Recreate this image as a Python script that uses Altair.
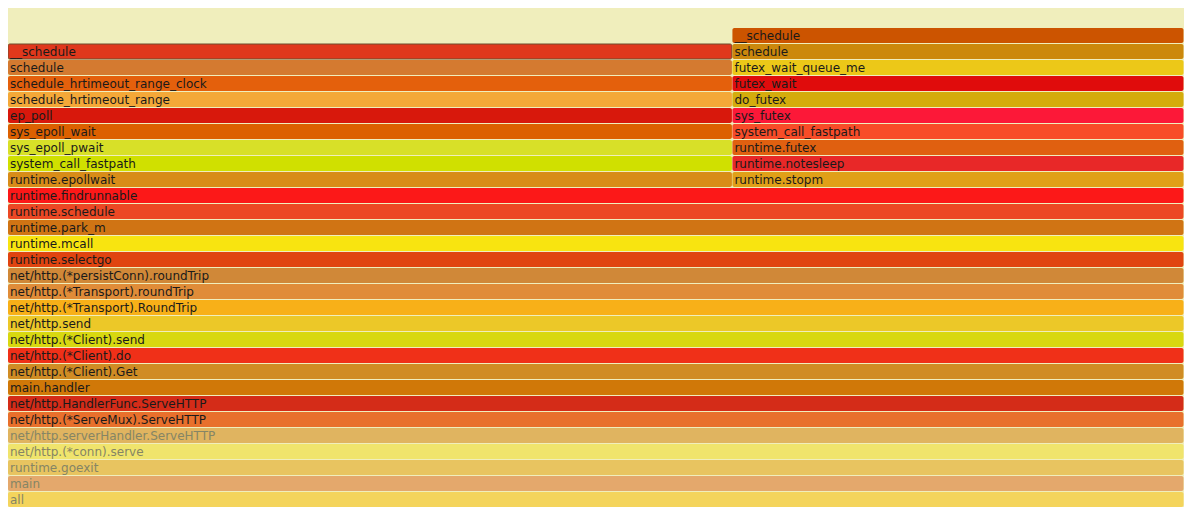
import altair as alt
import pandas as pd

# ---- data ----
TOTAL = 1000
LEFT = 616   # epoll branch samples
RIGHT = TOTAL - LEFT  # futex branch samples

common_names = [
    "all", "main", "runtime.goexit", "net/http.(*conn).serve",
    "net/http.serverHandler.ServeHTTP", "net/http.(*ServeMux).ServeHTTP",
    "net/http.HandlerFunc.ServeHTTP", "main.handler", "net/http.(*Client).Get",
    "net/http.(*Client).do", "net/http.(*Client).send", "net/http.send",
    "net/http.(*Transport).RoundTrip", "net/http.(*Transport).roundTrip",
    "net/http.(*persistConn).roundTrip", "runtime.selectgo", "runtime.mcall",
    "runtime.park_m", "runtime.schedule", "runtime.findrunnable",
]
common_colors = [
    "#f4d45c", "#e4a86c", "#e8c460", "#f0e46c", "#e0b460", "#e8702c",
    "#d42c18", "#d07808", "#d08c24", "#f03018", "#d8d810", "#ecc828",
    "#f8b018", "#e08c38", "#d08838", "#e04410", "#f8e410", "#d07414",
    "#ec4824", "#fc1818",
]
faded_rows = 5  # the bottom five frames are drawn faded

left_names = [
    "runtime.epollwait", "system_call_fastpath", "sys_epoll_pwait",
    "sys_epoll_wait", "ep_poll", "schedule_hrtimeout_range",
    "schedule_hrtimeout_range_clock", "schedule", "__schedule",
]
left_colors = [
    "#d88c18", "#d0e000", "#d8e028", "#dc6000", "#d8180c", "#f4a838",
    "#e4600c", "#d47a30", "#e0381c",
]

right_names = [
    "runtime.stopm", "runtime.notesleep", "runtime.futex",
    "system_call_fastpath", "sys_futex", "do_futex", "futex_wait",
    "futex_wait_queue_me", "schedule", "__schedule",
]
right_colors = [
    "#e0a018", "#e82828", "#e06010", "#f84c28", "#fc1838", "#d4ac0c",
    "#e00c0c", "#ecc818", "#cc880c", "#cc5400",
]

highlighted = ("__schedule", 28, 0)  # name, depth, start of the hovered frame

# ---- build table ----
rows = []
for i, (n, c) in enumerate(zip(common_names, common_colors)):
    rows.append(dict(name=n, depth=i, start=0, end=TOTAL, color=c,
                     faded=i < faded_rows))
base_depth = len(common_names)
for i, (n, c) in enumerate(zip(left_names, left_colors)):
    rows.append(dict(name=n, depth=base_depth + i, start=0, end=LEFT, color=c,
                     faded=False))
for i, (n, c) in enumerate(zip(right_names, right_colors)):
    rows.append(dict(name=n, depth=base_depth + i, start=LEFT, end=TOTAL,
                     color=c, faded=False))

df = pd.DataFrame(rows)
df["top"] = df["depth"] + 1
df["mid"] = df["depth"] + 0.5
df["textColor"] = df["faded"].map({True: "#858565", False: "#1a1a1a"})
df["sw"] = [
    1 if (r.name == highlighted[0] and r.depth == highlighted[1] and r.start == highlighted[2]) else 0
    for r in df.itertuples()
]

W = 1176
H = 499
xs = alt.Scale(domain=[0, TOTAL], nice=False, zero=False)
ys = alt.Scale(domain=[0, H / 16], nice=False, zero=False)

base = alt.Chart(df)

bars = base.mark_rect(cornerRadius=2, y2Offset=1, x2Offset=-0.5, stroke="#6e4c2c").encode(
    x=alt.X("start:Q", scale=xs, axis=None),
    x2="end:Q",
    y=alt.Y("depth:Q", scale=ys, axis=None),
    y2="top:Q",
    color=alt.Color("color:N", scale=None),
    strokeWidth=alt.StrokeWidth("sw:Q", scale=None),
)

labels = base.mark_text(
    align="left", baseline="middle", dx=2, yOffset=0.5,
    font="DejaVu Sans", fontSize=12,
).encode(
    x=alt.X("start:Q", scale=xs, axis=None),
    y=alt.Y("mid:Q", scale=ys, axis=None),
    text="name:N",
    color=alt.Color("textColor:N", scale=None),
)

chart = (
    alt.layer(bars, labels)
    .properties(
        width=W, height=H,
        padding=0,
        autosize=alt.AutoSizeParams(type="none"),
        background="#f0eebc",
    )
    .configure_view(stroke=None)
)

chart.save("out.html", embed_options={"renderer": "svg", "actions": False})
